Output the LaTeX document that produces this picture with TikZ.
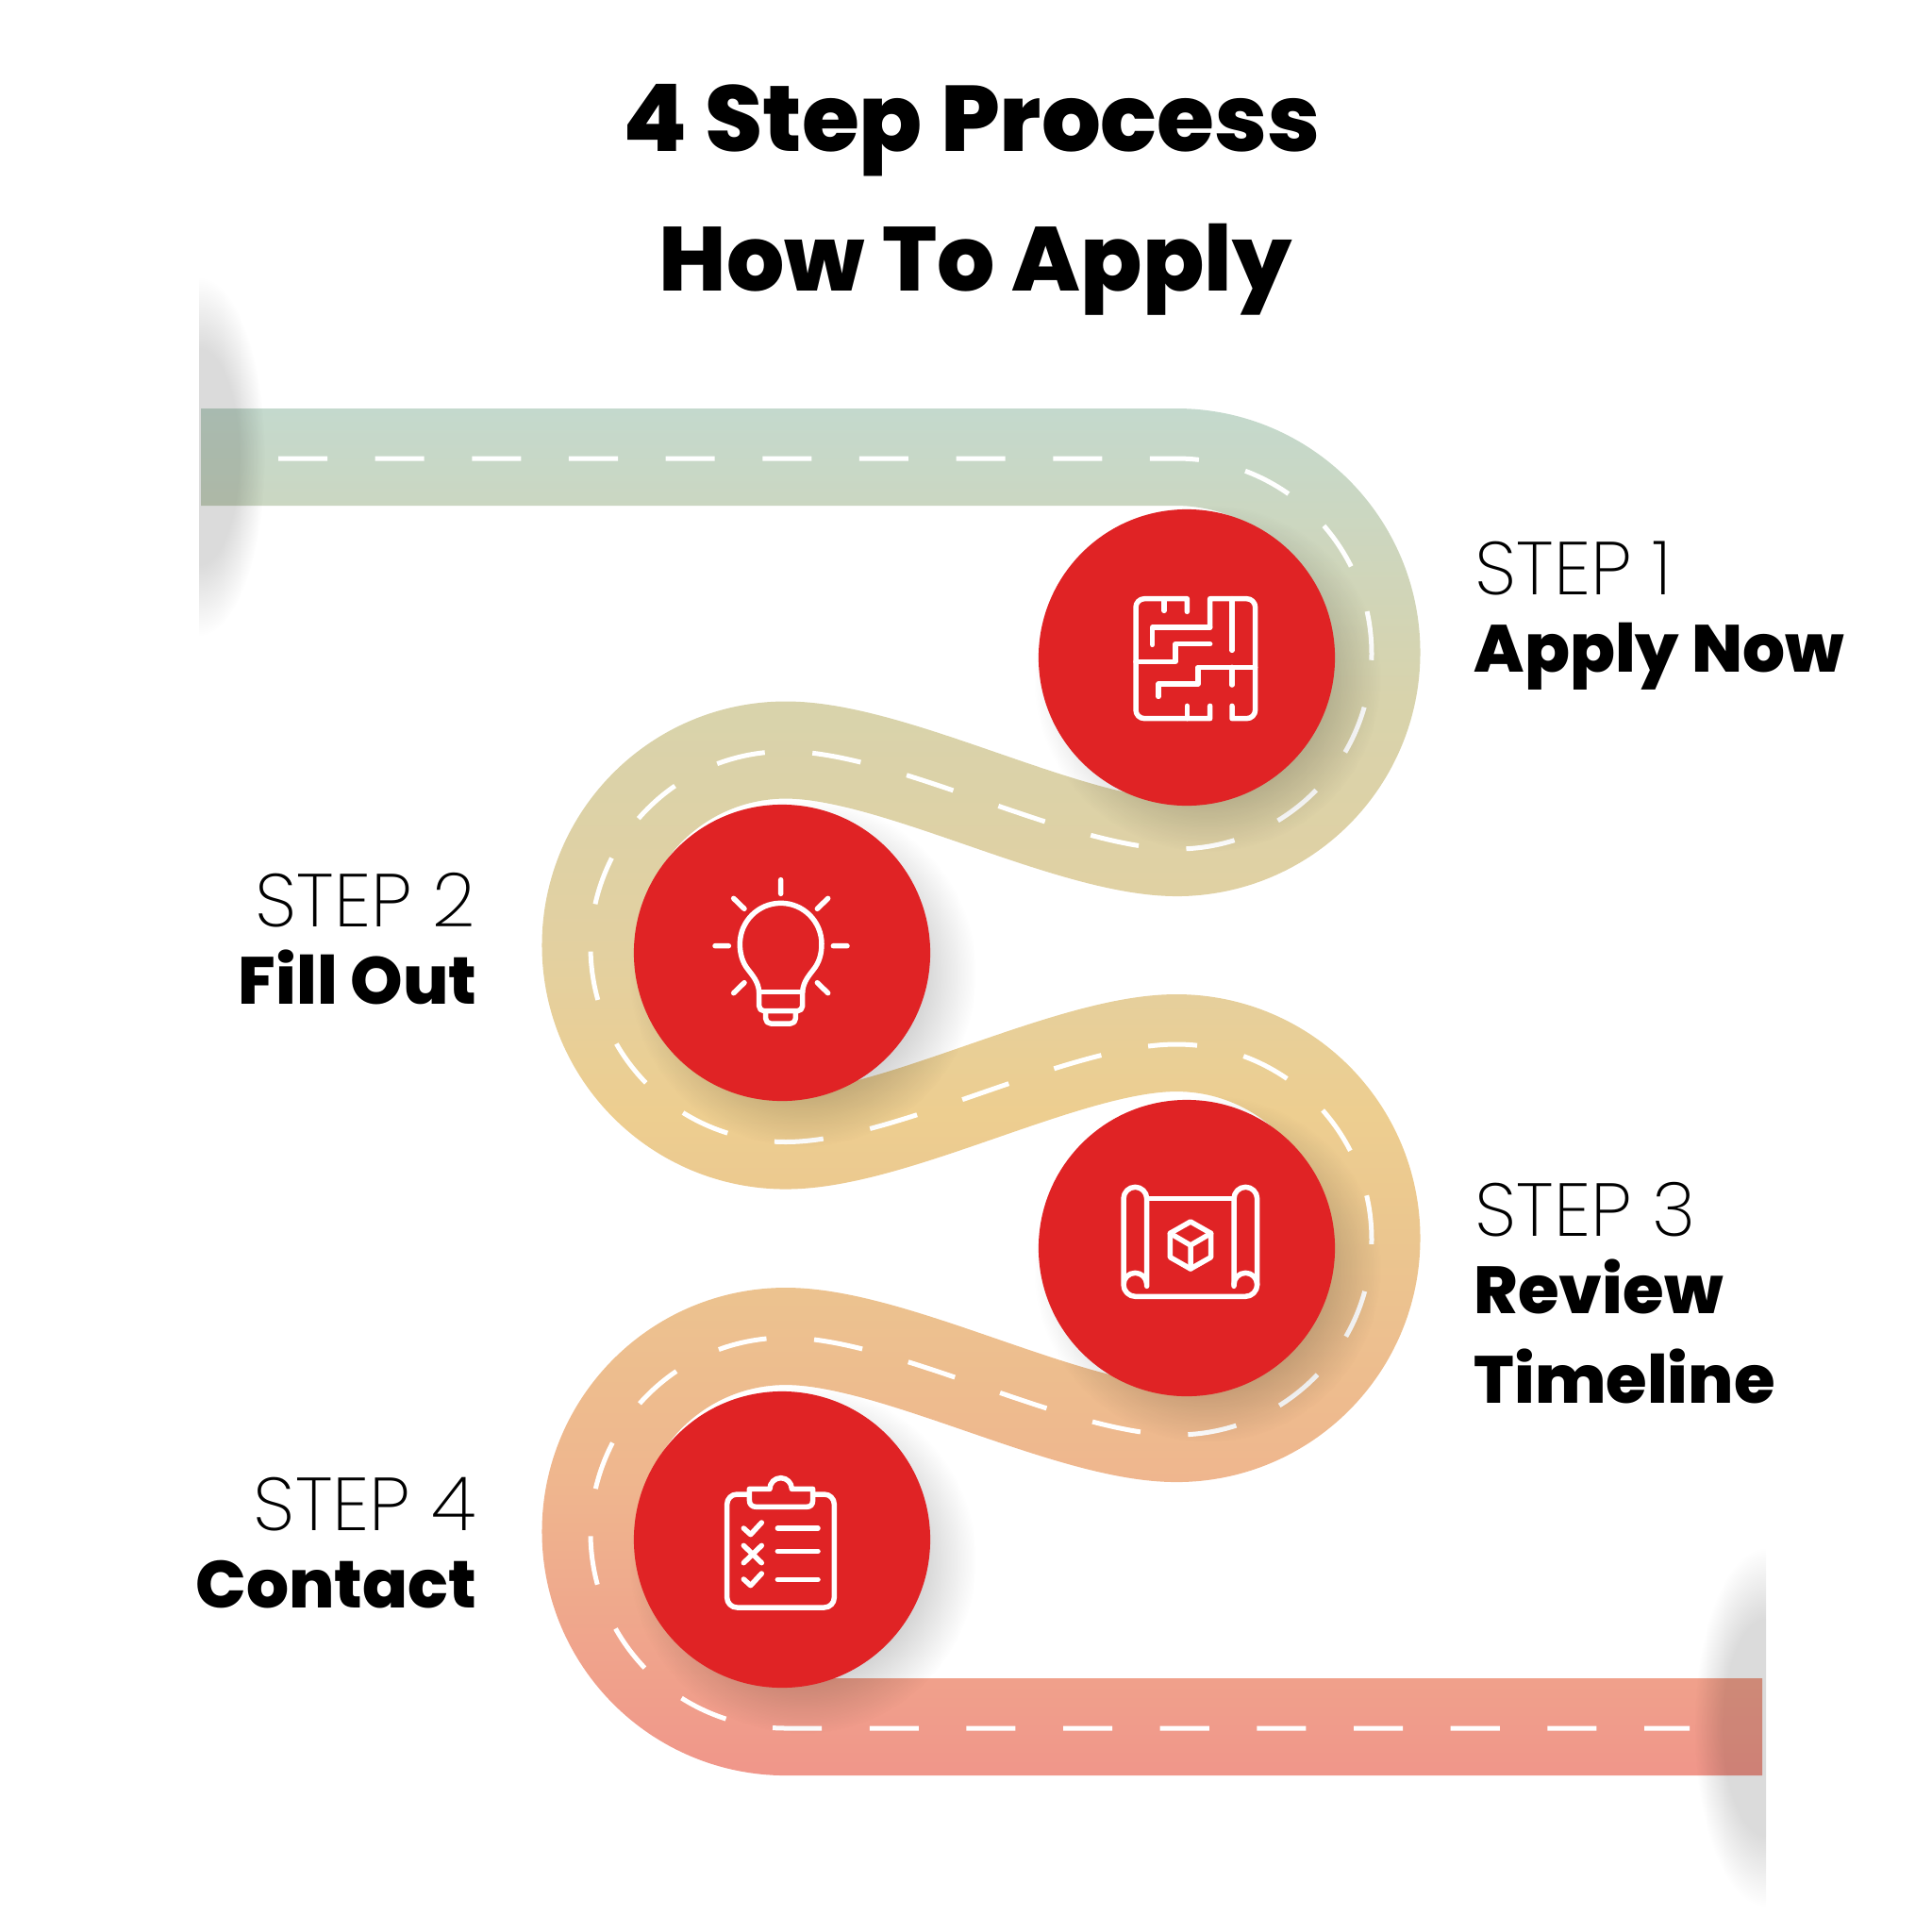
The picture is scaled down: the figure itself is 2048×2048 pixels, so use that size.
\documentclass[tikz,border=0pt]{standalone}
\usepackage{fontspec}
\usepackage{xcolor}
\usetikzlibrary{fadings,calc}
\newfontfamily\headfont{Poppins ExtraBold}
\newfontfamily\stepfont{Poppins ExtraLight}
\definecolor{discred}{HTML}{E02325}
\definecolor{roadA}{HTML}{C4D9CD}
\definecolor{roadB}{HTML}{D8D3AC}
\definecolor{roadC}{HTML}{E3D0A0}
\definecolor{roadD}{HTML}{EDCE90}
\definecolor{roadE}{HTML}{EBC68F}
\definecolor{roadF}{HTML}{EFB68E}
\definecolor{roadG}{HTML}{F0968A}
\newcommand{\roadbends}{-- (1247,484.5) arc[start angle=-90,end angle=90,radius=207]
  .. controls (1132,898) and (948,795) .. (833,795) arc[start angle=-90,end angle=-270,radius=207]
  .. controls (948,1209) and (1132,1105.5) .. (1247,1105.5) arc[start angle=-90,end angle=90,radius=207]
  .. controls (1132,1519.5) and (948,1416.5) .. (833,1416.5) arc[start angle=-90,end angle=-270,radius=207]}
\pgfdeclareverticalshading{roadshade}{100bp}{color(0bp)=(roadG);
  color(29.05bp)=(roadG); color(36.67bp)=(roadF); color(43bp)=(roadE); color(46.19bp)=(roadD);
  color(50.34bp)=(roadC); color(56.93bp)=(roadB); color(64.43bp)=(roadA); color(100bp)=(roadA)}
\pgfdeclareradialshading{softshade}{\pgfpointorigin}{color(0bp)=(pgftransparent!0);
  color(15bp)=(pgftransparent!0); color(25bp)=(pgftransparent!100); color(50bp)=(pgftransparent!100)}
\pgfdeclarefading{softdisc}{\pgfuseshading{softshade}}
\begin{tikzfadingfrompicture}[name=roadfade,x=0.01cm,y=-0.01cm]
  \useasboundingbox (0,0) rectangle (2048,2048);
  \draw[transparent!0,line width=1.03cm] (213,484.5) \roadbends -- (1868,1830.5);
\end{tikzfadingfrompicture}
\tikzset{
  stepdisc/.style={circle,fill=discred,minimum size=3.14cm,inner sep=0pt},
  softshadow/.style={black,opacity=0.21,path fading=softdisc},
  iconline/.style={draw=white,line width=0.055cm,line cap=round,line join=round},
  stepnum/.style={inner sep=0pt,font=\stepfont\fontsize{22.6}{22.6}\selectfont},
  stepname/.style={inner sep=0pt,font=\headfont\fontsize{20.1}{20.1}\selectfont},
  headline/.style={inner sep=0pt,anchor=base}
}
\begin{document}
\begin{tikzpicture}[x=0.01cm,y=-0.01cm]
  \useasboundingbox (0,0) rectangle (2048,2048);
  % road
  \shade[shading=roadshade,path fading=roadfade,fit fading=false,fading transform={shift={(1024,1024)}}] (0,0) rectangle (2048,2048);
  \draw[white,line width=0.05cm,dash pattern=on 0.52cm off 0.506cm,shift={(0,1.5)}] (295,484.5) \roadbends -- (1791,1830.5);
  % shadows at the road ends
  \begin{scope}
    \clip (211,200) rectangle (400,800);
    \fill[softshadow,opacity=0.14] (211,484) ellipse[x radius=70,y radius=190];
  \end{scope}
  \begin{scope}
    \clip (1650,1600) rectangle (1872,2048);
    \fill[softshadow,opacity=0.14] (1872,1831) ellipse[x radius=76,y radius=190];
  \end{scope}
  % discs
  \foreach \n/\px/\py in {1/1258/697,2/829/1010,3/1258/1323,4/829/1632}{
    \fill[softshadow] (\px+22,\py+22) circle[radius=184];
    \node[stepdisc] (disc\n) at (\px,\py) {};
  }
  % maze
  \begin{scope}[shift={(1150,600)},scale=1/3,iconline]
    \draw (325,145) -- (325,104) [rounded corners=2.6pt] -- (162,104) -- (162,485) [sharp corners] -- (398,485) -- (398,445);
    \draw (252,104) -- (252,142) (325,485) -- (325,445);
    \draw (398,195) -- (398,104) [rounded corners=2.6pt] -- (542,104) -- (542,485) [sharp corners] -- (468,485) -- (468,445);
    \draw (468,104) -- (468,268) (468,322) -- (468,378);
    \draw (215,250) -- (215,195) -- (398,195);
    \draw (398,248) -- (288,248) -- (288,304) -- (162,304);
    \draw (542,322) -- (360,322) -- (360,375) -- (234,375) -- (234,415);
  \end{scope}
  % bulb
  \begin{scope}[shift={(730,910)},scale=1/3,iconline]
    \draw (293,68) -- (293,112) (143,127) -- (177,160) (443,127) -- (409,160) (84,278) -- (127,278)
      (460,278) -- (504,278) (143,428) -- (177,395) (443,428) -- (409,395);
    \draw (224,425) .. controls (222,392) and (203,372) .. (188,352) .. controls (172,332) and (163,305) .. (163,272)
      arc[start angle=180,end angle=360,radius=130]
      .. controls (423,305) and (414,332) .. (398,352) .. controls (383,372) and (364,392) .. (362,425);
    \draw (224,425) -- (362,425);
    \draw[rounded corners=1.5pt] (224,425) -- (224,485) -- (362,485) -- (362,425);
    \draw[rounded corners=1.5pt] (245,488) -- (245,525) -- (340,525) -- (340,488);
  \end{scope}
  % blueprint
  \begin{scope}[shift={(1160,1230)},scale=1/3,iconline]
    \draw (167,400) -- (167,122) arc[start angle=360,end angle=180,radius=37] -- (93,395)
      arc[start angle=180,end angle=360,radius=37] (93,395)
      arc[start angle=180,end angle=90,radius=38] -- (480,433)
      arc[start angle=90,end angle=0,radius=38] -- (518,122)
      arc[start angle=360,end angle=180,radius=37] -- (444,400);
    \draw (444,395) arc[start angle=180,end angle=360,radius=37];
    \draw (167,122) -- (444,122);
    \draw (306,195) -- (371,232) -- (371,308) -- (306,345) -- (241,308) -- (241,232) -- cycle;
    \draw (241,232) -- (306,270) -- (371,232) (306,270) -- (306,345);
  \end{scope}
  % clipboard
  \begin{scope}[shift={(740,1540)},scale=1/3,iconline]
    \draw[rounded corners=3pt] (160,132) -- (92,132) -- (92,492) -- (433,492) -- (433,132) -- (370,132);
    \draw (228,115) arc[start angle=180,end angle=360,radius=35] -- (365,115) -- (365,150)
      .. controls (365,165) and (358,172) .. (345,172) -- (185,172) .. controls (172,172) and (163,165) .. (163,150) -- (163,115) -- cycle;
    \draw (145,240) -- (167,260) -- (202,222) (145,295) -- (202,350) (202,295) -- (145,350) (145,402) -- (167,422) -- (202,384);
    \draw (253,240) -- (381,240) (253,313) -- (381,313) (253,403) -- (381,403);
  \end{scope}
  % texts
  \node[headline,font=\headfont\fontsize{28.1}{28.1}\selectfont] (head1) at (1030,160) {4 Step Process};
  \node[headline,font=\headfont\fontsize{27.4}{27.4}\selectfont] (head2) at (1034,308) {How To Apply};
  \node[stepnum,anchor=base west] (num1) at (1563,630) {STEP 1};
  \node[stepname,anchor=base west] (name1) at (1562,712) {Apply Now};
  \node[stepnum,anchor=base east] (num2) at (505,982) {STEP 2};
  \node[stepname,anchor=base east] (name2) at (506,1064) {Fill Out};
  \node[stepnum,anchor=base west] (num3) at (1563,1310) {STEP 3};
  \node[stepname,anchor=base west] (name3) at (1562,1392) {Review};
  \node[stepname,anchor=base west] (name3b) at (1562,1487) {Timeline};
  \node[stepnum,anchor=base east] (num4) at (505,1622) {STEP 4};
  \node[stepname,anchor=base east] (name4) at (506,1704) {Contact};
\end{tikzpicture}
\end{document}
